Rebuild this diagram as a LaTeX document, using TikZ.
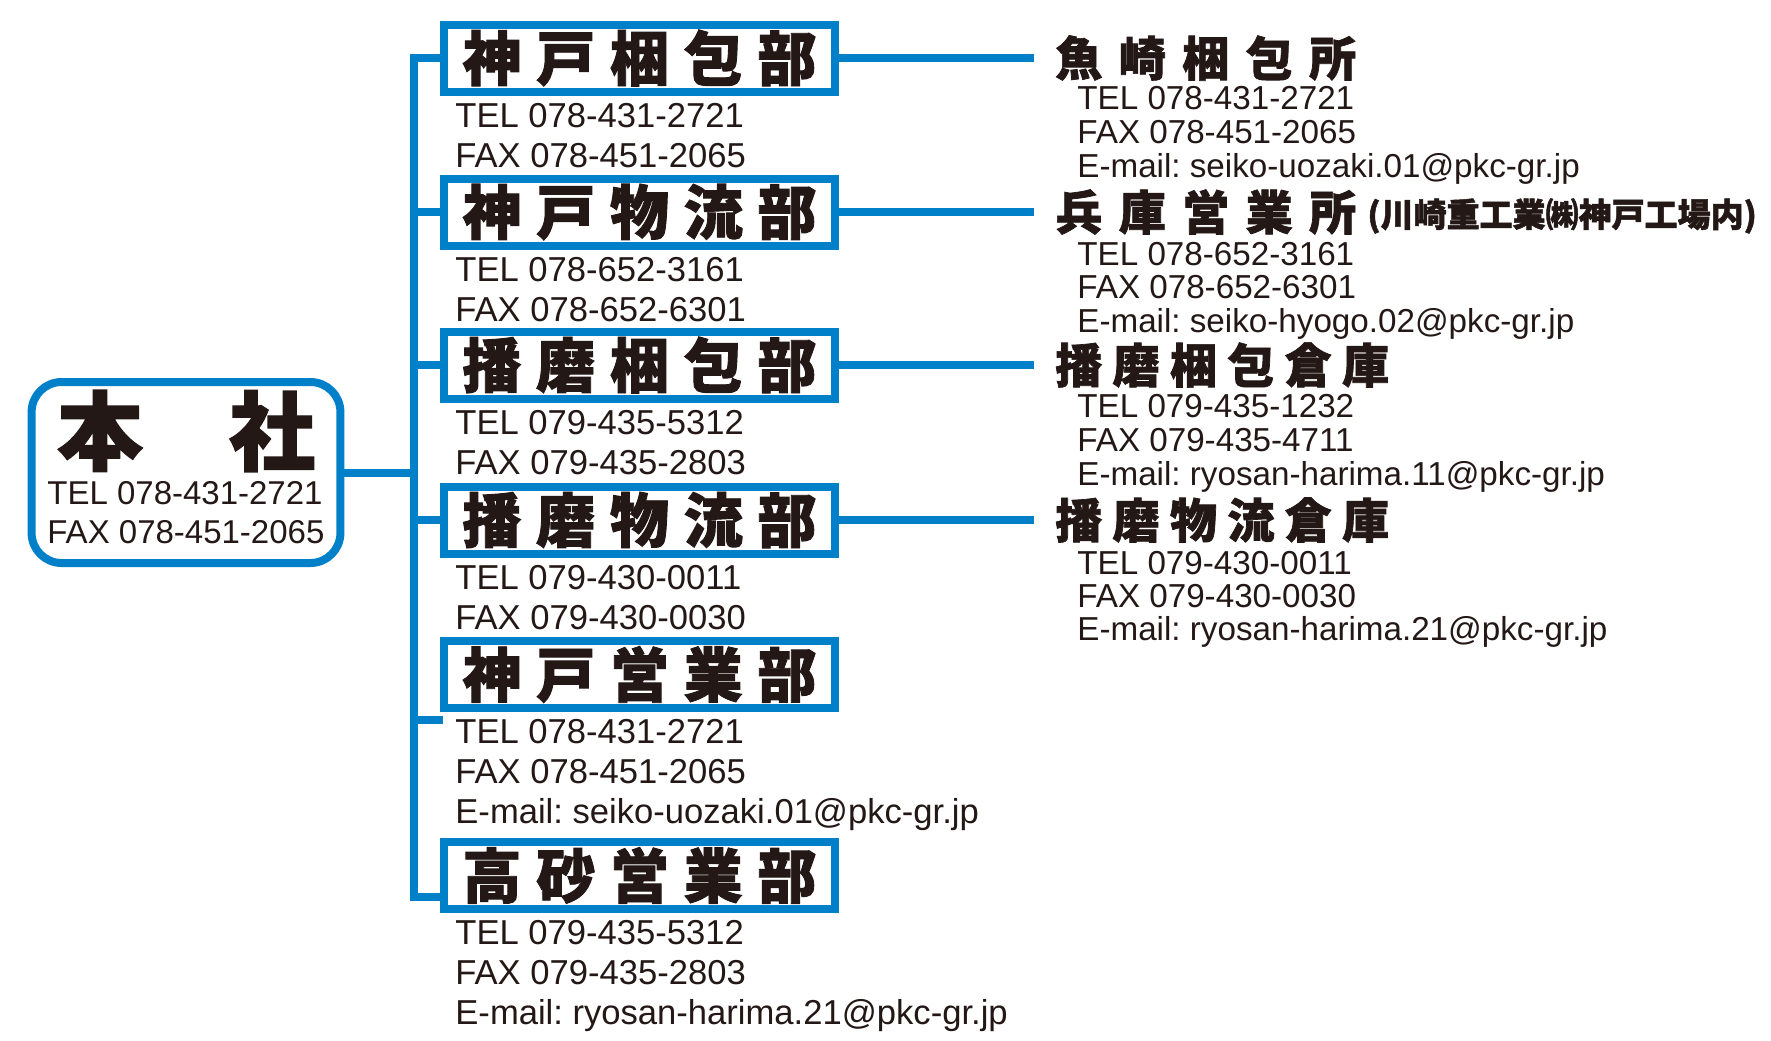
\documentclass[tikz,border=0pt]{standalone}
\usepackage{fontspec}
\setmainfont{Liberation Sans}
\newfontfamily\jpfont{Noto Sans CJK JP}[BoldFeatures={FakeBold=1.5}]
\usetikzlibrary{positioning}
\definecolor{pkcblue}{RGB}{0,128,200}
\definecolor{pkcink}{RGB}{35,24,21}
\frenchspacing

\begin{document}
\begin{tikzpicture}[x=0.5pt, y=-0.5pt, text=pkcink,
    link/.style={draw=pkcblue, line width=4pt},
    hqbox/.style={draw=pkcblue, line width=4pt, rounded corners=15pt,
        minimum width=154.4pt, minimum height=90.5pt, inner sep=0pt},
    hqname/.style={inner sep=0pt, font=\jpfont\bfseries\fontsize{43pt}{43pt}\selectfont},
    unit/.style={draw=pkcblue, line width=4pt, minimum width=195.5pt, minimum height=33.5pt,
        inner sep=0pt, font=\jpfont\bfseries\fontsize{29.5pt}{29.5pt}\selectfont\addfontfeature{LetterSpace=25}},
    hd/.style={anchor=west, inner sep=0pt, font=\jpfont\bfseries\fontsize{23.5pt}{23.5pt}\selectfont\addfontfeature{LetterSpace=35}},
    hdwide/.style={hd, font=\jpfont\bfseries\fontsize{23.5pt}{23.5pt}\selectfont\addfontfeature{LetterSpace=22}},
    note/.style={anchor=west, inner sep=0pt, font=\jpfont\bfseries\fontsize{16.5pt}{16.5pt}\selectfont},
    lbl/.style={anchor=base west, inner sep=0pt, font=\fontsize{17.3pt}{17.3pt}\selectfont},
    hqlbl/.style={lbl, font=\fontsize{16.5pt}{16.5pt}\selectfont},
    sub/.style={lbl, font=\fontsize{16.6pt}{16.6pt}\selectfont}
]
\useasboundingbox (0,0) rectangle (1771,1040);

% Head office
\node[hqbox] (hq) at (186,472.5) {};
\node[hqname] (hqn) at (186,431) {本　社};
\node[hqlbl] (hqtel) at (47,504) {TEL 078-431-2721};
\node[hqlbl] (hqfax) at (47,543) {FAX 078-451-2065};

% Departments
\node[unit] (b1) at (639.5,58) {神戸梱包部};
\node[lbl] (b1tel) at (455,127) {TEL 078-431-2721};
\node[lbl] (b1fax) at (455,167) {FAX 078-451-2065};

\node[unit] (b2) at (639.5,212) {神戸物流部};
\node[lbl] (b2tel) at (455,281) {TEL 078-652-3161};
\node[lbl] (b2fax) at (455,321) {FAX 078-652-6301};

\node[unit] (b3) at (639.5,365) {播磨梱包部};
\node[lbl] (b3tel) at (455,434) {TEL 079-435-5312};
\node[lbl] (b3fax) at (455,474) {FAX 079-435-2803};

\node[unit] (b4) at (639.5,520) {播磨物流部};
\node[lbl] (b4tel) at (455,589) {TEL 079-430-0011};
\node[lbl] (b4fax) at (455,629) {FAX 079-430-0030};

\node[unit] (b5) at (639.5,674.5) {神戸営業部};
\node[lbl] (b5tel) at (455,743.5) {TEL 078-431-2721};
\node[lbl] (b5fax) at (455,783.5) {FAX 078-451-2065};
\node[lbl] (b5mail) at (455,823.5) {E-mail: seiko-uozaki.01@pkc-gr.jp};

\node[unit] (b6) at (639.5,875.5) {高砂営業部};
\node[lbl] (b6tel) at (455,944.5) {TEL 079-435-5312};
\node[lbl] (b6fax) at (455,984.5) {FAX 079-435-2803};
\node[lbl] (b6mail) at (455,1024.5) {E-mail: ryosan-harima.21@pkc-gr.jp};

% Sites
\node[hd] (t1) at (1055,58) {魚崎梱包所};
\node[sub] (t1tel) at (1077,109) {TEL 078-431-2721};
\node[sub] (t1fax) at (1077,143) {FAX 078-451-2065};
\node[sub] (t1mail) at (1077,177) {E-mail: seiko-uozaki.01@pkc-gr.jp};

\node[hd] (t2) at (1055,212) {兵庫営業所};
\node[note] (t2note) at (1367,216) {(川崎重工業㈱神戸工場内)};
\node[sub] (t2tel) at (1077,265) {TEL 078-652-3161};
\node[sub] (t2fax) at (1077,298) {FAX 078-652-6301};
\node[sub] (t2mail) at (1077,332) {E-mail: seiko-hyogo.02@pkc-gr.jp};

\node[hdwide] (t3) at (1055,365) {播磨梱包倉庫};
\node[sub] (t3tel) at (1077,417) {TEL 079-435-1232};
\node[sub] (t3fax) at (1077,451) {FAX 079-435-4711};
\node[sub] (t3mail) at (1077,485) {E-mail: ryosan-harima.11@pkc-gr.jp};

\node[hdwide] (t4) at (1055,520) {播磨物流倉庫};
\node[sub] (t4tel) at (1077,574) {TEL 079-430-0011};
\node[sub] (t4fax) at (1077,607) {FAX 079-430-0030};
\node[sub] (t4mail) at (1077,640) {E-mail: ryosan-harima.21@pkc-gr.jp};

% Connectors
\coordinate (spbot) at (414,897);
\coordinate (b5in) at (443,720);
\draw[link] (b1.west) -| (spbot) -- (b6.west |- spbot);
\foreach \n in {2,3,4}
    \draw[link] (b\n.west) -- (b\n.west -| spbot);
\draw[link] (b5in) -- (b5in -| spbot);
\draw[link] (hq.east) -- (hq.east -| spbot);
\foreach \n in {1,...,4}
    \draw[link, shorten >=10.5pt] (b\n.east) -- (t\n.west);
\end{tikzpicture}
\end{document}
